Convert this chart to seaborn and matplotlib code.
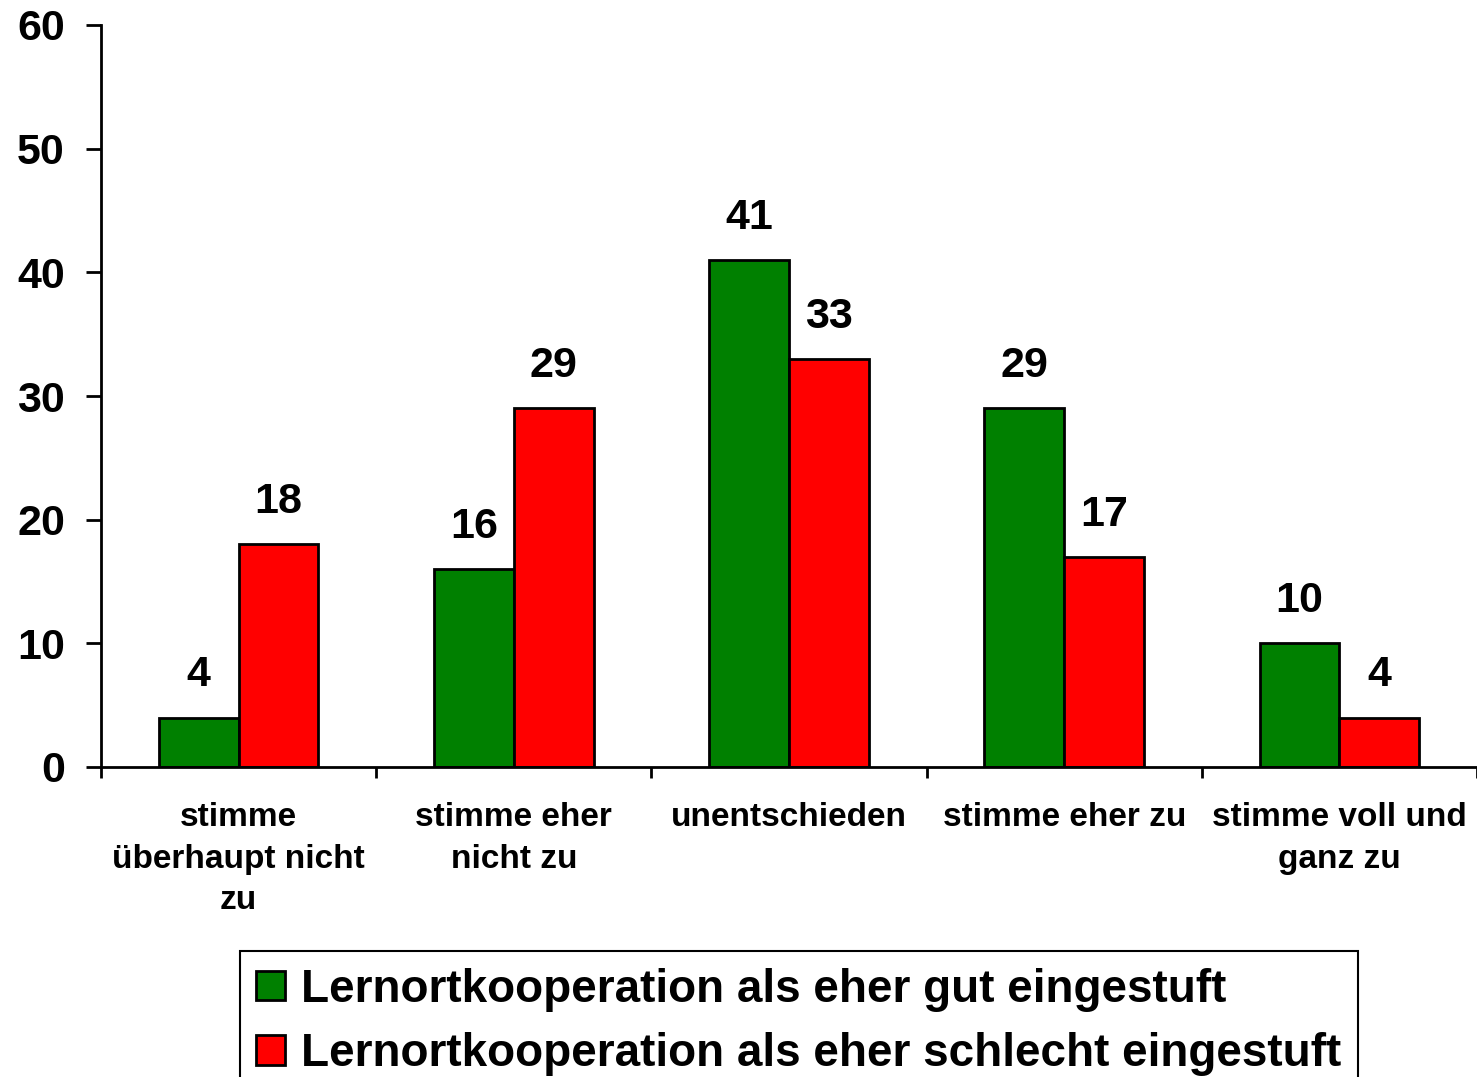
import pandas as pd
import matplotlib.pyplot as plt
import seaborn as sns

# data
categories = [
    "stimme\nüberhaupt nicht\nzu",
    "stimme eher\nnicht zu",
    "unentschieden",
    "stimme eher zu",
    "stimme voll und\nganz zu",
]
series_names = [
    "Lernortkooperation als eher gut eingestuft",
    "Lernortkooperation als eher schlecht eingestuft",
]
gut = [4, 16, 41, 29, 10]
schlecht = [18, 29, 33, 17, 4]
y_ticks = [0, 10, 20, 30, 40, 50, 60]

df = pd.DataFrame({
    "Kategorie": categories * 2,
    "Gruppe": [series_names[0]] * len(gut) + [series_names[1]] * len(schlecht),
    "Wert": gut + schlecht,
})

sns.set_style("white")
plt.rcParams["font.family"] = ["Liberation Sans", "DejaVu Sans"]
plt.rcParams["font.weight"] = "bold"
for key in ["text.color", "axes.labelcolor", "xtick.color", "ytick.color"]:
    plt.rcParams[key] = "black"

fig = plt.figure(figsize=(14.77, 10.77), dpi=100)
ax = fig.add_axes([101 / 1477, 1 - 767 / 1077, 1 - 101 / 1477, (767 - 25) / 1077])

sns.barplot(
    data=df, x="Kategorie", y="Wert", hue="Gruppe",
    palette=["#008000", "#FF0000"], width=0.58, dodge=True,
    edgecolor="black", linewidth=2, saturation=1, ax=ax,
)

for cont in ax.containers:
    ax.bar_label(cont, fontsize=31, fontweight="bold", padding=16, color="black")

ax.set_ylim(0, 60)
ax.set_xlim(-0.5, 4.5)
ax.set_yticks(y_ticks)
ax.set_yticklabels([str(t) for t in y_ticks], fontsize=31, fontweight="bold")
ax.tick_params(axis="y", direction="out", length=11, width=2, pad=15, left=True)

# ticks between groups, labels at group centres
ax.set_xticks([i - 0.5 for i in range(len(categories) + 1)])
ax.set_xticklabels([])
ax.set_xticks(range(len(categories)), minor=True)
ax.set_xticklabels(categories, minor=True, fontsize=24, fontweight="bold",
                   linespacing=1.45)
ax.tick_params(axis="x", which="major", direction="out", length=8, width=2, bottom=True)
ax.tick_params(axis="x", which="minor", length=0, pad=25)

ax.set_xlabel("")
ax.set_ylabel("")
for s in ["top", "right"]:
    ax.spines[s].set_visible(False)
for s in ["left", "bottom"]:
    ax.spines[s].set_color("black")
    ax.spines[s].set_linewidth(2)

handles, labels = ax.get_legend_handles_labels()
ax.legend_.remove()
leg = fig.legend(
    handles, labels, loc="upper left",
    bbox_to_anchor=(240 / 1477, 1 - 951 / 1077),
    prop={"family": "Liberation Sans", "weight": "bold", "size": 33},
    frameon=True, fancybox=False, edgecolor="black", framealpha=1,
    handlelength=0.62, handleheight=0.62, handletextpad=0.36,
    borderpad=0.36, labelspacing=0.45, borderaxespad=0,
)
leg.get_frame().set_linewidth(1.5)

fig.savefig("out.png", dpi=100)
